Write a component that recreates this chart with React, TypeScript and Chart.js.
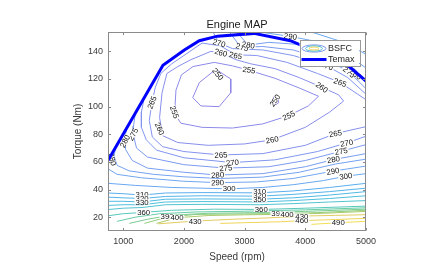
import React, { useEffect, useRef } from 'react';
import { Chart, registerables } from 'chart.js';

Chart.register(...registerables);

// ---------- axes ----------
const xTicks = [1000, 2000, 3000, 4000, 5000];
const yTicks = [20, 40, 60, 80, 100, 120, 140];
const xRange = [750, 5000];
const yRange = [10, 154];

// ---------- Temax curve ----------
const temaxSpeed = [750, 1655, 2008, 2254, 2555, 3154, 3754, 4683, 5000];
const temaxTorque = [61, 130, 141, 147.7, 151, 153, 147.7, 130.4, 118.5];

// ---------- BSFC contour lines [speed, torque] ----------
const bsfc250a = [[2527, 127], [2772, 120], [2772, 110], [2581, 100], [2281, 100.5], [2146, 106.5], [2254, 117.4], [2527, 127]];
const bsfc250b = [[3480, 107], [3545, 106], [3562, 103], [3520, 101.5], [3470, 103.5], [3480, 107]];
const bsfc255 = [[1846, 95], [1870, 112], [1960, 123], [2150, 129], [2500, 132], [2800, 129.5], [3073, 126.3], [3500, 120.5], [3900, 113.5], [4219, 107.5], [4050, 100.5], [3728, 93.5], [3300, 87.5], [2800, 84.5], [2300, 85], [1950, 88], [1846, 95]];
const bsfc260 = [[1720, 124], [1640, 110], [1600, 92], [1650, 79], [1900, 74], [2400, 72], [3000, 73], [3455, 76], [4000, 85], [4400, 96], [4630, 104], [4550, 108.5], [4273, 114], [3900, 121], [3500, 127.5], [3100, 131], [2855, 134], [2609, 139], [2445, 140], [2118, 134], [1900, 129], [1720, 124]];
const bsfc265 = [[5000, 105], [4573, 117.5], [4200, 124], [3700, 132], [3200, 137], [2855, 137.5], [2600, 144], [2300, 146], [2000, 137], [1800, 131], [1620, 124], [1530, 114], [1474, 103], [1430, 90], [1480, 78], [1650, 71], [2000, 67.5], [2610, 65], [3300, 66], [4000, 72], [4496, 80.5], [5000, 85.5]];
const bsfc270a = [[2480, 154], [2581, 146], [2800, 142], [3300, 141], [3800, 137], [4355, 129.5], [4700, 121], [5000, 109]];
const bsfc270b = [[1350, 107], [1300, 96], [1300, 85], [1380, 76], [1550, 68.5], [2000, 63], [2800, 59.5], [3500, 61.5], [4200, 67.5], [4683, 73.7], [5000, 78.6]];
const bsfc275a = [[2750, 154], [2937, 143], [3300, 143.5], [3800, 141], [4300, 134.5], [4700, 126], [5000, 113]];
const bsfc275b = [[1200, 95], [1170, 86], [1164, 80], [1220, 70], [1400, 63.5], [2000, 58], [2690, 55.5], [3400, 56.5], [4000, 61], [4590, 67.7], [5000, 72.5]];
const bsfc280a = [[2870, 154], [3060, 144.5], [3400, 146.5], [3900, 145], [4400, 138.5], [4820, 127], [5000, 117]];
const bsfc280b = [[1055, 84], [1030, 77], [1040, 69], [1150, 61], [1400, 55.5], [2000, 52.5], [2555, 50.5], [3300, 51.5], [4000, 56.5], [4465, 61.7], [5000, 66]];
const bsfc285 = [[875, 70.5], [850, 64], [900, 57.5], [1100, 53.5], [1500, 51], [2000, 49.2], [2600, 48], [3300, 49], [3900, 52.5], [4500, 58.5], [5000, 62]];
const bsfc290a = [[3250, 154], [3755, 150.8], [4200, 147], [4600, 140], [5000, 128]];
const bsfc290b = [[750, 55], [900, 51], [1300, 48.5], [2000, 46], [2555, 45], [3200, 45.5], [3800, 48], [4454, 53.3], [5000, 57]];
const bsfc300a = [[4100, 154], [4600, 147], [5000, 138]];
const bsfc300b = [[750, 44.5], [1200, 43], [1800, 41.5], [2300, 41], [2746, 40.5], [3300, 41.5], [3800, 43.5], [4300, 46.5], [4666, 49.6], [5000, 51.5]];
const bsfc310 = [[750, 37.5], [1000, 37], [1311, 36], [1700, 37.5], [2300, 37.8], [3248, 37.6], [3800, 39], [4400, 41.5], [5000, 44.5]];
const bsfc320 = [[750, 34.5], [1000, 34], [1311, 33.5], [1700, 35], [2300, 35.5], [3248, 35.2], [3800, 36.5], [4400, 38.5], [5000, 41]];
const bsfc330 = [[750, 31.5], [1000, 31.5], [1311, 31], [1700, 33], [2300, 33.2], [3248, 33], [3800, 34], [4400, 36], [5000, 38.5]];
const bsfc340 = [[750, 28.5], [1000, 29], [1311, 29], [1700, 31], [2300, 31.3], [3248, 31], [3800, 32], [4400, 33.5], [5000, 35.5]];
const bsfc350 = [[750, 25.5], [1000, 26.5], [1311, 27], [1700, 29], [2300, 29.3], [3248, 29], [3800, 29.8], [4400, 31], [5000, 32]];
const bsfc360 = [[750, 21], [1000, 22.5], [1337, 23.5], [1800, 25], [2500, 25.8], [3275, 25.6], [4000, 26.5], [5000, 28]];
const bsfc370 = [[900, 17], [1200, 20], [1600, 22.5], [2200, 23.8], [3000, 24.3], [4000, 25.3], [5000, 26.8]];
const bsfc380 = [[1100, 15.5], [1400, 18.5], [1800, 21.5], [2400, 22.8], [3200, 23.3], [4000, 24.2], [5000, 25.8]];
const bsfc390 = [[1350, 15.5], [1723, 20], [2200, 22], [3000, 22.4], [3548, 22.6], [4200, 23.3], [5000, 25]];
const bsfc400 = [[1550, 15.5], [1887, 19.6], [2400, 21.2], [3000, 21.7], [3740, 22.2], [4300, 22.8], [5000, 24.2]];
const bsfc430 = [[1580, 15.2], [2186, 17.2], [2800, 18.5], [3400, 19.5], [3943, 20.8], [4500, 21.3], [5000, 21.8]];
const bsfc460 = [[2600, 15.5], [3000, 16], [3600, 16.7], [3943, 17.5], [4500, 18.3], [5000, 19.2]];
const bsfc490 = [[4100, 14.8], [4543, 16], [5000, 17]];

// contour level for each line
const contourLines: [number, number[][]][] = [
  [250, bsfc250a], [250, bsfc250b], [255, bsfc255], [260, bsfc260], [265, bsfc265],
  [270, bsfc270a], [270, bsfc270b], [275, bsfc275a], [275, bsfc275b], [280, bsfc280a], [280, bsfc280b],
  [285, bsfc285], [290, bsfc290a], [290, bsfc290b], [300, bsfc300a], [300, bsfc300b],
  [310, bsfc310], [320, bsfc320], [330, bsfc330], [340, bsfc340], [350, bsfc350],
  [360, bsfc360], [370, bsfc370], [380, bsfc380], [390, bsfc390], [400, bsfc400],
  [430, bsfc430], [460, bsfc460], [490, bsfc490],
];

// contour labels: [text, speed, torque, angle(deg)]
const contourLabels: [string, number, number, number][] = [
  ['250', 2560, 123.5, 50], ['250', 3500, 104.5, -55],
  ['255', 3073, 126.5, 8], ['255', 1846, 96, 70], ['255', 3728, 93.5, -25],
  ['260', 2609, 139, 15], ['260', 1600, 84, 65], ['260', 3455, 76, -10], ['260', 4273, 114, 35],
  ['265', 2855, 137, 12], ['265', 1474, 103, -68], ['265', 2610, 65, -3], ['265', 4496, 80.5, -10], ['265', 4573, 117.5, 20],
  ['270', 2581, 146, 15], ['270', 2800, 59.5, -5], ['270', 4683, 73.7, -10], ['270', 4355, 129.5, 20],
  ['275', 2690, 55.5, -5], ['275', 4590, 67.7, -10], ['275', 1164, 80, -62], ['275', 2960, 143, 15], ['280', 3060, 144.5, 10],
  ['275', 4720, 125, 40], ['280', 4830, 123.5, 40],
  ['280', 2555, 50.5, -3], ['280', 4465, 61.7, -10], ['280', 1030, 75, -62], ['280', 820, 62, 75],
  ['290', 2555, 45, -2], ['290', 4454, 53.3, -10], ['290', 3755, 150.8, 8],
  ['300', 2746, 40.5, 0], ['300', 4666, 49.6, -8],
  ['310', 1311, 36.6, 0], ['320', 1311, 33.8, 0], ['330', 1311, 31, 0],
  ['310', 3248, 38.4, 0], ['320', 3248, 35.6, 0], ['350', 3248, 32.8, 0],
  ['360', 1337, 23.4, 0], ['390', 1723, 20.3, 0], ['400', 1887, 19.8, 0],
  ['360', 3275, 25.7, 0], ['390', 3548, 22.6, 0], ['400', 3700, 22.3, 0],
  ['430', 2186, 17.2, 0], ['430', 3943, 20.8, 0], ['460', 3943, 17.5, 0], ['490', 4543, 16, 0],
];

// ---------- styles ----------
const levelColors: Record<number, string> = {
  250: '#8e86e6', 255: '#8c8aea', 260: '#888eec', 265: '#8492ee', 270: '#8096f0', 275: '#7c9af0',
  280: '#789ef0', 285: '#74a2f0', 290: '#70a6f0', 300: '#68a8f0', 310: '#5aaeee', 320: '#54b4ea',
  330: '#50bae4', 340: '#4cc0dc', 350: '#50c4d0', 360: '#58c8bc', 370: '#66cca6', 380: '#7acc90',
  390: '#92cc7a', 400: '#acca6c', 430: '#e0cc60', 460: '#f0d458', 490: '#f2de50',
};
const FONT = '"Liberation Sans", Arial, Helvetica, sans-serif';
const AXIS_COLOR = '#8a8a8a';
const TEXT_COLOR = '#3a3a3a';

const decorPlugin = {
  id: 'matlabDecor',
  beforeDatasetDraw(chart: any, args: any) {
    if (args.index !== 0) return;
    const { ctx, chartArea } = chart;
    const xs = chart.scales.x, ys = chart.scales.y;
    ctx.save();
    ctx.beginPath();
    ctx.rect(chartArea.left, chartArea.top, chartArea.right - chartArea.left, chartArea.bottom - chartArea.top);
    ctx.clip();
    ctx.font = `7.8px ${FONT}`;
    ctx.textAlign = 'center';
    ctx.textBaseline = 'middle';
    for (const [t, sx, ty, ang] of contourLabels) {
      const px = xs.getPixelForValue(sx);
      const py = ys.getPixelForValue(ty);
      ctx.save();
      ctx.translate(px, py);
      ctx.rotate((ang * Math.PI) / 180);
      const w = ctx.measureText(t).width;
      ctx.fillStyle = '#ffffff';
      ctx.fillRect(-w / 2 - 1, -2.6, w + 2, 5.2);
      ctx.fillStyle = '#111111';
      ctx.fillText(t, 0, 0.5);
      ctx.restore();
    }
    ctx.restore();
  },
  afterDraw(chart: any) {
    const { ctx, chartArea } = chart;
    const xs = chart.scales.x, ys = chart.scales.y;
    const { left, right, top, bottom } = chartArea;
    ctx.save();
    ctx.strokeStyle = AXIS_COLOR;
    ctx.lineWidth = 1;
    const L = Math.round(left) + 0.5, R = Math.round(right) - 0.5;
    const T = Math.round(top) + 0.5, B = Math.round(bottom) - 0.5;
    ctx.strokeRect(L, T, R - L, B - T);
    const tl = 2.6;
    ctx.beginPath();
    for (const v of xTicks) {
      const px = Math.round(xs.getPixelForValue(v)) + 0.5;
      ctx.moveTo(px, B); ctx.lineTo(px, B - tl);
      ctx.moveTo(px, T); ctx.lineTo(px, T + tl);
    }
    for (const v of yTicks) {
      const py = Math.round(ys.getPixelForValue(v)) + 0.5;
      ctx.moveTo(L, py); ctx.lineTo(L + tl, py);
      ctx.moveTo(R, py); ctx.lineTo(R - tl, py);
    }
    ctx.stroke();

    // legend
    const lx = right - 66.5, ly = top + 8, lw = 59.5, lh = 26;
    ctx.fillStyle = '#ffffff';
    ctx.fillRect(lx, ly, lw, lh);
    ctx.strokeStyle = '#9a9a9a';
    ctx.strokeRect(Math.round(lx) + 0.5, Math.round(ly) + 0.5, Math.round(lw), Math.round(lh));
    const cx = lx + 14.5, cy = ly + 8.5;
    const rings: [number, number, string][] = [[12, 3.6, '#7f94ee'], [8.5, 2.6, '#50c4d0'], [5, 1.5, '#f0d458']];
    ctx.lineWidth = 1;
    for (const [rx, ry, col] of rings) {
      ctx.strokeStyle = col;
      ctx.beginPath();
      ctx.ellipse(cx, cy, rx, ry, 0, 0, Math.PI * 2);
      ctx.stroke();
    }
    ctx.strokeStyle = '#0000ff';
    ctx.lineWidth = 3;
    ctx.beginPath();
    ctx.moveTo(lx + 2, ly + 19.5);
    ctx.lineTo(lx + 27, ly + 19.5);
    ctx.stroke();
    ctx.fillStyle = '#262626';
    ctx.font = `9px ${FONT}`;
    ctx.textAlign = 'left';
    ctx.textBaseline = 'middle';
    ctx.fillText('BSFC', lx + 28.5, cy + 0.5);
    ctx.fillText('Temax', lx + 28.5, ly + 19.5);
    ctx.restore();
  },
};

export default function App() {
  const ref = useRef<HTMLCanvasElement>(null);
  useEffect(() => {
    document.body.style.margin = '0';
    const canvas = ref.current!;
    const datasets: any[] = [
      {
        label: 'Temax',
        data: temaxSpeed.map((s, i) => ({ x: s, y: temaxTorque[i] })),
        showLine: true,
        borderColor: '#0000ff',
        borderWidth: 3,
        pointRadius: 0,
        clip: 0,
        order: 0,
      },
      ...contourLines.map(([lvl, pts]) => ({
        label: 'BSFC ' + lvl,
        data: pts.map(([x, y]) => ({ x, y })),
        showLine: true,
        borderColor: levelColors[lvl],
        borderWidth: 1,
        pointRadius: 0,
        clip: 0,
        order: 1,
      })),
    ];
    const tickFont = { family: FONT, size: 9 };
    const chart = new Chart(canvas, {
      type: 'scatter',
      data: { datasets },
      options: {
        animation: false,
        responsive: false,
        devicePixelRatio: 1,
        events: [],
        layout: { padding: { left: 0, right: 57, top: 0, bottom: 0 } },
        plugins: {
          legend: { display: false },
          tooltip: { enabled: false },
          title: {
            display: true,
            text: 'Engine MAP',
            fullSize: false,
            color: '#1a1a1a',
            font: { family: FONT, size: 11, weight: 'normal' },
            padding: { top: 18.8, bottom: 0 },
          },
        },
        scales: {
          x: {
            type: 'linear',
            min: xRange[0],
            max: xRange[1],
            grid: { display: false, drawTicks: false },
            border: { display: false },
            ticks: { font: tickFont, color: TEXT_COLOR, padding: 5, maxRotation: 0, autoSkip: false, callback: (v: any) => String(v) },
            afterBuildTicks: (s: any) => { s.ticks = xTicks.map((v) => ({ value: v })); },
            afterFit: (s: any) => { s.height = 48; },
            title: { display: true, text: 'Speed (rpm)', color: TEXT_COLOR, font: { family: FONT, size: 10 }, padding: { top: 0, bottom: 16 } },
          },
          y: {
            type: 'linear',
            min: yRange[0],
            max: yRange[1],
            grid: { display: false, drawTicks: false },
            border: { display: false },
            ticks: { font: tickFont, color: TEXT_COLOR, padding: 5, autoSkip: false, callback: (v: any) => String(v) },
            afterBuildTicks: (s: any) => { s.ticks = yTicks.map((v) => ({ value: v })); },
            afterFit: (s: any) => { s.width = 108; },
            title: { display: true, text: 'Torque (Nm)', color: TEXT_COLOR, font: { family: FONT, size: 10 }, padding: { top: 72, bottom: 0 } },
          },
        },
      } as any,
      plugins: [decorPlugin],
    });
    return () => chart.destroy();
  }, []);
  return (
    <div style={{ width: 423, height: 279 }}>
      <canvas ref={ref} width={423} height={279} style={{ display: 'block', width: 423, height: 279 }} />
    </div>
  );
}
